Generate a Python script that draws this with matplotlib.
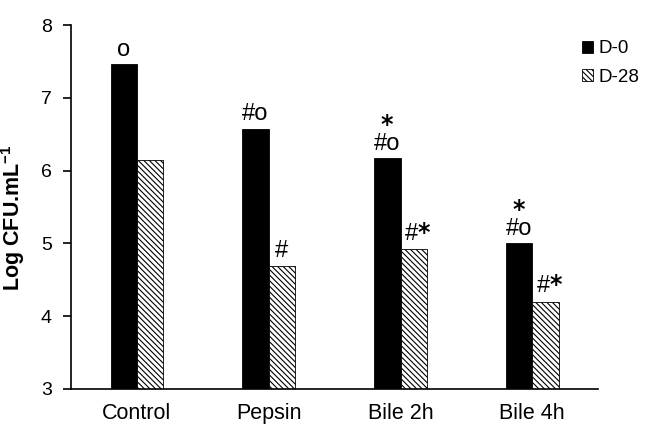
import matplotlib.pyplot as plt
import numpy as np

plt.rcParams['font.family'] = ['Liberation Sans', 'DejaVu Sans']
plt.rcParams['mathtext.fontset'] = 'custom'
plt.rcParams['mathtext.rm'] = 'Liberation Sans'
plt.rcParams['mathtext.bf'] = 'DejaVu Sans:bold'
plt.rcParams['hatch.linewidth'] = 0.8

# Data
categories = ['Control', 'Pepsin', 'Bile 2h', 'Bile 4h']
d0 = [7.46, 6.57, 6.17, 5.00]
d28 = [6.15, 4.69, 4.92, 4.20]
d0_marks = ['o', '#o', '#o', '#o']
d0_stars = [False, False, True, True]
d28_marks = ['', '#', '#', '#']
d28_stars = [False, False, True, True]

fig = plt.figure(figsize=(6.46, 4.25), dpi=100)
ax = fig.add_axes([0.110, 0.085, 0.816, 0.856])

x = np.arange(len(categories))
w = 0.2
ax.bar(x - w / 2, d0, w, color='black', edgecolor='black',
       linewidth=0.6, label='D-0')
ax.bar(x + w / 2, d28, w, color='white', edgecolor='black', hatch='\\\\\\\\\\\\',
       linewidth=0.6, label='D-28')

star = '$\\mathbf{*}$'

# significance marks above bars
for i in range(len(categories)):
    s = d0_marks[i]
    if d0_stars[i]:
        s = star + '\n' + s
    ax.text(x[i] - w / 2, d0[i] + 0.05, s, ha='center', va='bottom',
            multialignment='center', linespacing=0.85, fontsize=17)
    if d28_marks[i]:
        s = d28_marks[i]
        if d28_stars[i]:
            s = s + star
        ax.text(x[i] + w / 2 + (0.03 if d28_stars[i] else 0), d28[i] + 0.06, s,
                ha='center', va='bottom', fontsize=17)

ax.set_xlim(-0.5, 3.5)
ax.set_ylim(3, 8)
ax.set_yticks([3, 4, 5, 6, 7, 8])
ax.set_xticks(x)
ax.set_xticklabels(categories)
ax.tick_params(axis='x', length=0, labelsize=15.5, pad=10)
ax.tick_params(axis='y', length=6, width=1.2, labelsize=14, pad=8, direction='out')
ax.set_ylabel('Log CFU.mL$^{\\mathregular{-1}}$', fontsize=15.5, fontweight='bold')
ax.yaxis.set_label_coords(-0.083, 0.47)
ax.spines['top'].set_visible(False)
ax.spines['right'].set_visible(False)
ax.spines['left'].set_linewidth(1.2)
ax.spines['bottom'].set_linewidth(1.2)

fig.legend(loc='upper left', bbox_to_anchor=(0.875, 0.945), frameon=False,
           fontsize=13.5, handlelength=0.6, handleheight=0.6, handletextpad=0.3,
           labelspacing=0.6)

plt.savefig('out.png', dpi=100)
